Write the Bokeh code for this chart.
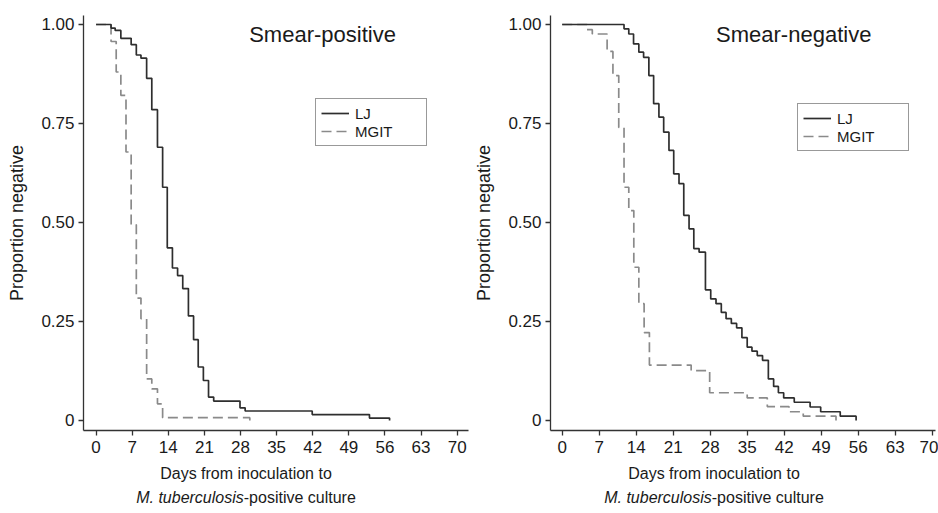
from bokeh.plotting import figure
from bokeh.models import Range1d, FixedTicker, Label, Legend, LegendItem, Div
from bokeh.layouts import row, column
from bokeh.embed import file_html
from bokeh.resources import INLINE

# ---------------- data ----------------
x_ticks = [0, 7, 14, 21, 28, 35, 42, 49, 56, 63, 70]
y_ticks = [0, 0.25, 0.5, 0.75, 1.0]
y_tick_labels = ["0", "0.25", "0.50", "0.75", "1.00"]

titles = ["Smear-positive", "Smear-negative"]
series_names = ["LJ", "MGIT"]
y_title = "Proportion negative"
x_title_1 = "Days from inoculation to"
x_title_2_italic = "M. tuberculosis"
x_title_2_rest = "-positive culture"

# Smear-positive
pos_lj_days = [0, 2.9, 3.7, 4.8, 6.8, 7.8, 8.7, 9.8, 10.8, 11.9, 12.9, 13.8, 14.8,
               15.8, 16.8, 17.9, 18.9, 19.8, 20.8, 21.8, 22.8, 27.9, 28.9, 41.9,
               53.0, 56.9]
pos_lj_vals = [1.0, 0.991, 0.985, 0.965, 0.949, 0.923, 0.915, 0.864, 0.785, 0.690,
               0.589, 0.436, 0.385, 0.366, 0.333, 0.264, 0.204, 0.135, 0.101, 0.059,
               0.049, 0.032, 0.024, 0.015, 0.006, 0.0]
pos_mgit_days = [0, 2.9, 3.9, 4.8, 5.8, 6.8, 7.8, 8.7, 9.8, 10.8, 11.9, 12.9, 29.8]
pos_mgit_vals = [1.0, 0.957, 0.880, 0.821, 0.678, 0.494, 0.309, 0.257, 0.105, 0.080,
                 0.042, 0.007, 0.0]

# Smear-negative
neg_lj_days = [0, 11.7, 12.6, 13.5, 14.5, 15.4, 16.4, 17.3, 18.3, 19.2, 20.2, 21.1,
               22.1, 23.0, 24.0, 24.9, 25.9, 27.1, 28.1, 29.1, 30.1, 31.0, 32.0,
               33.0, 34.0, 35.0, 35.9, 36.9, 37.9, 39.0, 40.0, 40.9, 41.9, 43.9,
               46.9, 48.9, 52.6, 55.6]
neg_lj_vals = [1.0, 0.989, 0.976, 0.951, 0.930, 0.917, 0.871, 0.800, 0.766, 0.728,
               0.682, 0.623, 0.598, 0.518, 0.484, 0.434, 0.425, 0.330, 0.307, 0.295,
               0.273, 0.257, 0.245, 0.234, 0.209, 0.185, 0.175, 0.164, 0.152, 0.105,
               0.086, 0.070, 0.057, 0.046, 0.034, 0.022, 0.011, 0.0]
neg_mgit_days = [0, 4.7, 5.7, 8.5, 9.6, 10.7, 11.7, 12.6, 13.55, 14.5, 15.5, 16.5,
                 24.4, 27.9, 35.0, 38.8, 42.9, 45.6, 51.8]
neg_mgit_vals = [1.0, 0.987, 0.976, 0.932, 0.871, 0.740, 0.589, 0.530, 0.387, 0.295,
                 0.222, 0.140, 0.126, 0.070, 0.057, 0.035, 0.022, 0.011, 0.0]

# ---------------- styling ----------------
FONT = "Liberation Sans"
TXT = "#1a1a1a"
AX = "#333333"
LJ_COLOR = "#2e2e2e"
MGIT_COLOR = "#8a8a8a"


def make_panel(title, lj_d, lj_v, mg_d, mg_v, x_lo, x_hi, border_left, border_right,
               legend_loc, title_x):
    p = figure(frame_width=385, frame_height=415,
               min_border_left=border_left, min_border_right=border_right,
               min_border_top=15, min_border_bottom=32,
               x_range=Range1d(x_lo, x_hi), y_range=Range1d(-0.0253, 1.0227),
               toolbar_location=None, output_backend="svg")
    p.outline_line_color = None
    p.grid.visible = False
    p.background_fill_color = "white"
    p.border_fill_color = "white"

    for ax in (p.xaxis[0], p.yaxis[0]):
        ax.axis_line_color = AX
        ax.axis_line_width = 1.3
        ax.major_tick_line_color = AX
        ax.major_tick_line_width = 1.3
        ax.major_tick_out = 5
        ax.major_tick_in = 0
        ax.minor_tick_line_color = None
        ax.major_label_text_font = FONT
        ax.major_label_text_font_size = "17px"
        ax.major_label_text_color = TXT

    p.xaxis[0].ticker = FixedTicker(ticks=x_ticks)
    p.xaxis[0].major_label_standoff = 5
    p.yaxis[0].ticker = FixedTicker(ticks=y_ticks)
    p.yaxis[0].major_label_overrides = {t: l for t, l in zip(y_ticks, y_tick_labels)}
    p.yaxis[0].major_label_standoff = 4
    p.yaxis[0].axis_label = y_title
    p.yaxis[0].axis_label_text_font = FONT
    p.yaxis[0].axis_label_text_font_size = "18px"
    p.yaxis[0].axis_label_text_font_style = "normal"
    p.yaxis[0].axis_label_text_color = TXT
    p.yaxis[0].axis_label_standoff = 11

    r_mg = p.step(mg_d, mg_v, mode="after", line_color=MGIT_COLOR, line_width=1.7,
                  line_dash="10 5")
    r_lj = p.step(lj_d, lj_v, mode="after", line_color=LJ_COLOR, line_width=1.7)

    legend = Legend(items=[LegendItem(label=series_names[0], renderers=[r_lj]),
                           LegendItem(label=series_names[1], renderers=[r_mg])],
                    location=legend_loc, margin=0, padding=5, spacing=0,
                    glyph_width=28, glyph_height=18, label_height=18,
                    label_width=66, label_standoff=6,
                    label_text_font=FONT, label_text_font_size="15px",
                    label_text_color=TXT, border_line_color=AX,
                    border_line_width=1, background_fill_color="white",
                    background_fill_alpha=1.0)
    p.add_layout(legend)

    p.add_layout(Label(x=title_x, y=0.975, text=title, text_align="center",
                       text_baseline="middle", text_font=FONT,
                       text_font_size="22px", text_color=TXT))
    return p


def x_title_div(width, shift):
    html = ('<div style="width:%dpx;height:48px;box-sizing:border-box;'
            'padding-left:%dpx;text-align:center;font-family:\'Liberation Sans\','
            'Arial,sans-serif;font-size:16px;line-height:24px;color:%s;">'
            '%s<br><i>%s</i>%s</div>'
            % (width, 2 * shift, TXT, x_title_1, x_title_2_italic, x_title_2_rest))
    return Div(text=html, width=width, height=48, margin=0)


p1 = make_panel(titles[0], pos_lj_days, pos_lj_vals, pos_mgit_days, pos_mgit_vals,
                -2.44, 72.2, 83, 2, (232, 284), 43.9)
p2 = make_panel(titles[1], neg_lj_days, neg_lj_vals, neg_mgit_days, neg_mgit_vals,
                -2.21, 70.62, 80, 3, (247, 279), 43.8)

d1 = x_title_div(470, 11)
d2 = x_title_div(468, 10)

layout = column(row(p1, p2), row(d1, d2))
open("out.html", "w").write(file_html(layout, INLINE))
